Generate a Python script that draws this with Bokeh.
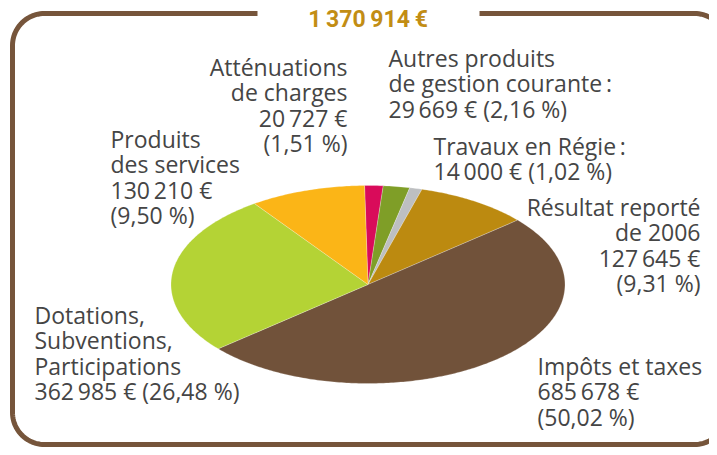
import numpy as np
from bokeh.plotting import figure
from bokeh.models import Range1d, ColumnDataSource
from bokeh.core.properties import value
from bokeh.embed import file_html
from bokeh.resources import INLINE

# ---------------- data (clockwise from 12 o'clock) ----------------
categories = ["Atténuations de charges", "Autres produits de gestion courante",
              "Travaux en Régie", "Résultat reporté de 2006", "Impôts et taxes",
              "Dotations, Subventions, Participations", "Produits des services"]
amounts = [20727, 29669, 14000, 127645, 685678, 362985, 130210]
colors = ["#D90B5A", "#7F9E27", "#BDBFC1", "#BC8A10", "#71523A", "#B4D335", "#FBB517"]
name_lines = [["Atténuations", "de charges"],
              ["Autres produits", "de gestion courante\u2009:"],
              ["Travaux en Régie\u2009:"],
              ["Résultat reporté", "de 2006"],
              ["Impôts et taxes"],
              ["Dotations,", "Subventions,", "Participations"],
              ["Produits", "des services"]]
amount_pct_same_line = [False, True, True, False, False, True, False]

# ---------------- layout (picture pixel coordinates) ----------------
label_x = [347, 388, 433, 700, 537, 34, 110]
label_y0 = [66, 57, 145, 206, 365, 314, 138]
label_align = ["right", "left", "left", "right", "left", "left", "left"]
line_step = 25.5

cx, cy, rx, ry = 367.5, 284.0, 197.0, 99.0
start_deg = -1.0

PW, PH = 709, 447
p = figure(width=PW, height=PH, output_backend="svg", toolbar_location=None,
           x_range=Range1d(0, PW), y_range=Range1d(PH, 0),
           min_border=0, outline_line_color=None,
           x_axis_location=None, y_axis_location=None)
p.xgrid.visible = False
p.ygrid.visible = False
p.background_fill_color = "white"
p.border_fill_color = "white"


def fr_int(v):
    return f"{v:,}".replace(",", "\u2009")


def fr_pct(f):
    return f"{f:.2f}".replace(".", ",") + " %"


total = sum(amounts)
fractions = [a / total for a in amounts]

# ---------------- pie slices (flattened) ----------------
xs, ys = [], []
cum = 0.0
for f in fractions:
    a0 = np.radians(start_deg + cum * 360.0)
    a1 = np.radians(start_deg + (cum + f) * 360.0)
    n = max(4, int(abs(a1 - a0) * 80))
    t = np.linspace(a0, a1, n)
    px = np.concatenate([[cx], cx + rx * np.sin(t), [cx]])
    py = np.concatenate([[cy], cy - ry * np.cos(t), [cy]])
    xs.append(list(px))
    ys.append(list(py))
    cum += f
p.patches(xs=xs, ys=ys, fill_color=colors, line_color="white", line_width=0.4, line_alpha=0.6)

# ---------------- labels ----------------
tx, ty, tt, ta = [], [], [], []
for i in range(len(categories)):
    lines = list(name_lines[i])
    amt = fr_int(amounts[i]) + " €"
    pct = "(" + fr_pct(fractions[i] * 100) + ")"
    if amount_pct_same_line[i]:
        lines.append(amt + " " + pct)
    else:
        lines.append(amt)
        lines.append(pct)
    for k, ln in enumerate(lines):
        tx.append(label_x[i])
        ty.append(label_y0[i] + k * line_step)
        tt.append(ln)
        ta.append(label_align[i])

src = ColumnDataSource(dict(x=tx, y=ty, text=tt, align=ta))
p.text(x="x", y="y", text="text", source=src, text_align="align",
       text_baseline="alphabetic", text_font=value("Open Sans"),
       text_font_size="23px", text_color="#454545")

# ---------------- rounded frame with gap for the total ----------------
L, R, T, B, r = 12.0, 726.0, 13.0, 444.0, 32.0
gap_left, gap_right = 257.0, 479.0
seg_x, seg_y = [gap_right], [T]


def arc(ccx, ccy, d0, d1):
    t = np.radians(np.linspace(d0, d1, 24))
    return list(ccx + r * np.cos(t)), list(ccy + r * np.sin(t))


for (ccx, ccy, d0, d1) in [(R - r, T + r, -90, 0), (R - r, B - r, 0, 90),
                           (L + r, B - r, 90, 180), (L + r, T + r, 180, 270)]:
    ax, ay = arc(ccx, ccy, d0, d1)
    seg_x += ax
    seg_y += ay
seg_x.append(gap_left)
seg_y.append(T)
p.line(seg_x, seg_y, line_color="#76553B", line_width=5, line_join="round")

# ---------------- title (total) ----------------
p.text(x=[cx], y=[19], text=[fr_int(total) + "\u2009€"], text_align="center",
       text_baseline="alphabetic", text_font=value("Roboto"), text_font_style="bold",
       text_font_size="23px", text_color="#C28D14")

open("out.html", "w").write(file_html(p, INLINE))
